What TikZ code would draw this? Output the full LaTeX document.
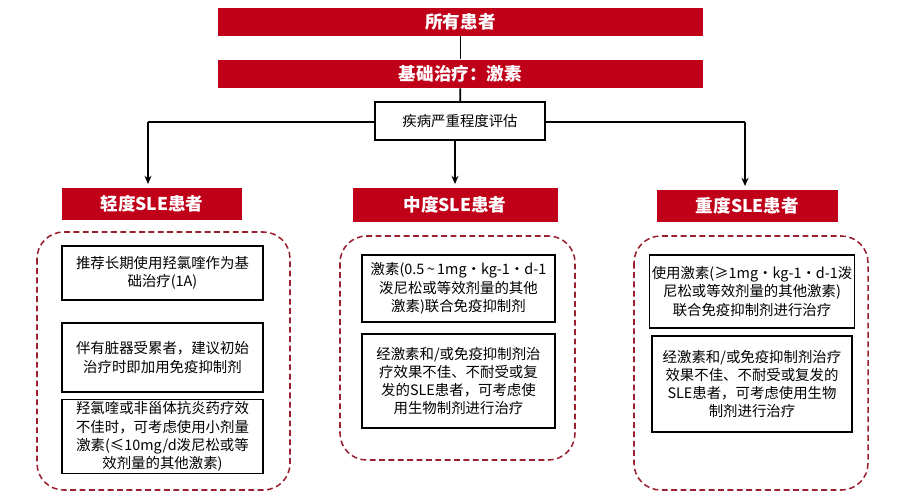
\documentclass[tikz,border=0pt]{standalone}
\usepackage{fontspec}
\setmainfont{Noto Sans CJK SC}
\usetikzlibrary{arrows.meta, positioning}
\definecolor{slered}{HTML}{C00018}
\definecolor{dashred}{HTML}{9A2030}

\begin{document}
\begin{tikzpicture}[x=0.03cm, y=-0.03cm,
                    line width=1.5pt, >={Stealth[length=7pt,width=6pt]},
                    bar/.style={rectangle, fill=slered, text=white, font=\fontsize{15}{17}\selectfont\bfseries, inner sep=0pt},
                    item/.style={rectangle, draw=black, line width=1.3pt, align=center, font=\fontsize{12.3}{15.5}\selectfont, inner sep=2pt},
                    group/.style={draw=dashred, line width=1.3pt, dash pattern=on 5pt off 3pt, rounded corners=0.8cm}]

\useasboundingbox (0,0) rectangle (906,500);

% Branch line
\coordinate (lft) at (148,122);
\coordinate (rgt) at (745,122);
\draw (lft) -- (rgt);

% Top bars
\node (all) [bar, minimum width=14.55cm, minimum height=0.84cm] at (460.5,21.5) {所有患者};
\node (base) [bar, minimum width=14.55cm, minimum height=0.84cm] at (460.5,73.5) {基础治疗：激素};
\node (eval) [item, fill=white, minimum width=5.1cm, minimum height=1.14cm] at (460,121) {疾病严重程度评估};

% Grade labels
\node (mild) [bar, minimum width=5.4cm, minimum height=0.96cm] at (152,204) {轻度SLE患者};
\node (mod) [bar, minimum width=6.15cm, minimum height=1.02cm] at (455,205) {中度SLE患者};
\node (sev) [bar, minimum width=5.43cm, minimum height=0.96cm] at (747.5,206) {重度SLE患者};

% Edges
\draw (all) -- (base);
\draw (base) -- (eval);
\draw[->] (lft) -- (lft |- 0,184);
\draw[->] (mod.north |- eval.south) -- (mod.north |- 0,184);
\draw[->] (rgt) -- (rgt |- 0,186);

% Groups
\draw[group] (37,232) rectangle (290,490);
\draw[group] (340,236) rectangle (575,460);
\draw[group] (634,236) rectangle (868,490);

% Mild
\node (m1) [item, minimum width=6.03cm, minimum height=1.62cm] at (162.5,273) {推荐长期使用羟氯喹作为基\\础治疗(1A)};
\node (m2) [item, minimum width=6.03cm, minimum height=2.07cm] at (162.5,357.5) {伴有脏器受累者，建议初始\\治疗时即加用免疫抑制剂};
\node (m3) [item, minimum width=6.03cm, minimum height=2.01cm] at (162.5,436.5) {羟氯喹或非甾体抗炎药疗效\\不佳时，可考虑使用小剂量\\激素(≤10mg/d泼尼松或等\\效剂量的其他激素)};

% Moderate
\node (d1) [item, minimum width=5.79cm, minimum height=2.01cm] at (458.5,288.5) {激素(0.5\,\textasciitilde\,1mg·kg-1·d-1\\泼尼松或等效剂量的其他\\激素)联合免疫抑制剂};
\node (d2) [item, minimum width=5.79cm, minimum height=2.82cm] at (458.5,381) {经激素和/或免疫抑制剂治\\疗效果不佳、不耐受或复\\发的SLE患者，可考虑使\\用生物制剂进行治疗};

% Severe
\node (s1) [item, minimum width=6cm, minimum height=2.19cm] at (752,291.5) {使用激素(≥1mg·kg-1·d-1泼\\尼松或等效剂量的其他激素)\\联合免疫抑制剂进行治疗};
\node (s2) [item, minimum width=6cm, minimum height=2.88cm] at (752,384) {经激素和/或免疫抑制剂治疗\\效果不佳、不耐受或复发的\\SLE患者，可考虑使用生物\\制剂进行治疗};

\end{tikzpicture}
\end{document}
